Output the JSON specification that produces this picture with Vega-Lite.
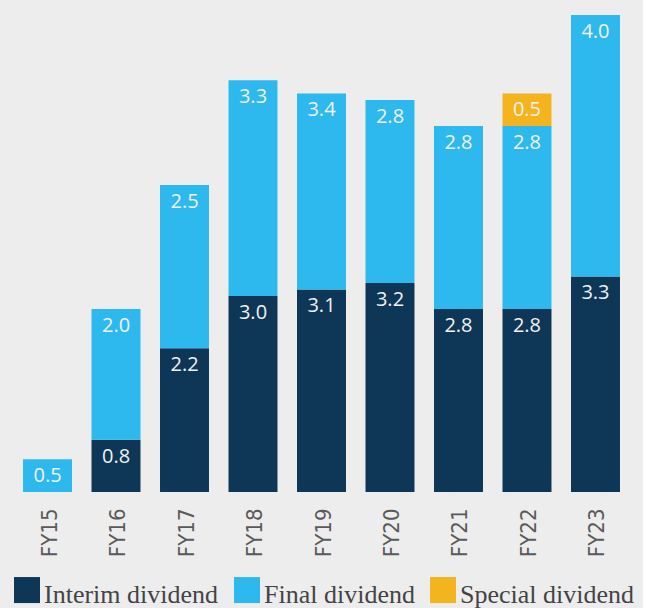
{
  "$schema": "https://vega.github.io/schema/vega-lite/v6.json",
  "width": 643,
  "height": 492,
  "padding": 0,
  "background": "#ededed",
  "config": {"view": {"stroke": null}},
  "data": {"values": [
    {"year": "FY15", "type": "Final dividend", "ord": 2, "value": 0.5, "label": "0.5"},
    {"year": "FY16", "type": "Interim dividend", "ord": 1, "value": 0.8, "label": "0.8"},
    {"year": "FY16", "type": "Final dividend", "ord": 2, "value": 2.0, "label": "2.0"},
    {"year": "FY17", "type": "Interim dividend", "ord": 1, "value": 2.2, "label": "2.2"},
    {"year": "FY17", "type": "Final dividend", "ord": 2, "value": 2.5, "label": "2.5"},
    {"year": "FY18", "type": "Interim dividend", "ord": 1, "value": 3.0, "label": "3.0"},
    {"year": "FY18", "type": "Final dividend", "ord": 2, "value": 3.3, "label": "3.3"},
    {"year": "FY19", "type": "Interim dividend", "ord": 1, "value": 3.1, "label": "3.1"},
    {"year": "FY19", "type": "Final dividend", "ord": 2, "value": 3.0, "label": "3.4"},
    {"year": "FY20", "type": "Interim dividend", "ord": 1, "value": 3.2, "label": "3.2"},
    {"year": "FY20", "type": "Final dividend", "ord": 2, "value": 2.8, "label": "2.8"},
    {"year": "FY21", "type": "Interim dividend", "ord": 1, "value": 2.8, "label": "2.8"},
    {"year": "FY21", "type": "Final dividend", "ord": 2, "value": 2.8, "label": "2.8"},
    {"year": "FY22", "type": "Interim dividend", "ord": 1, "value": 2.8, "label": "2.8"},
    {"year": "FY22", "type": "Final dividend", "ord": 2, "value": 2.8, "label": "2.8"},
    {"year": "FY22", "type": "Special dividend", "ord": 3, "value": 0.5, "label": "0.5"},
    {"year": "FY23", "type": "Interim dividend", "ord": 1, "value": 3.3, "label": "3.3"},
    {"year": "FY23", "type": "Final dividend", "ord": 2, "value": 4.0, "label": "4.0"}
  ]},
  "encoding": {
    "x": {
      "field": "year", "type": "nominal", "sort": null,
      "scale": {"paddingInner": 0.285, "paddingOuter": 0.336},
      "axis": {
        "title": null, "domain": false, "ticks": false, "labelAngle": -90,
        "labelPadding": 16, "labelFont": "'Liberation Sans Narrow', 'DejaVu Sans Condensed', 'Open Sans'", "labelFontSize": 22,
        "labelColor": "#5a5a5a", "labelOffset": 2
      }
    },
    "y": {
      "field": "value", "type": "quantitative", "stack": "zero",
      "scale": {"domain": [0, 7.53], "nice": false, "zero": true},
      "axis": null
    },
    "order": {"field": "ord", "type": "quantitative", "sort": "ascending"}
  },
  "layer": [
    {
      "mark": {"type": "bar"},
      "encoding": {
        "color": {
          "field": "type", "type": "nominal",
          "scale": {
            "domain": ["Interim dividend", "Final dividend", "Special dividend"],
            "range": ["#0d3657", "#2eb9ee", "#f4b41e"]
          },
          "legend": {
            "title": null, "orient": "none", "legendX": 14, "legendY": 582,
            "direction": "horizontal", "symbolType": "M-1,-1.38H1V0.62H-1Z", "symbolSize": 676,
            "symbolStrokeWidth": 0, "labelFont": "Liberation Serif", "labelFontSize": 26,
            "labelColor": "#444444", "labelOffset": 4, "columnPadding": 15,
            "labelLimit": 300
          }
        }
      }
    },
    {
      "mark": {"type": "text", "color": "#f2f2f2", "font": "Open Sans", "fontSize": 20, "baseline": "middle", "dy": 17},
      "encoding": {
        "text": {"field": "label", "type": "nominal"}
      }
    }
  ]
}
